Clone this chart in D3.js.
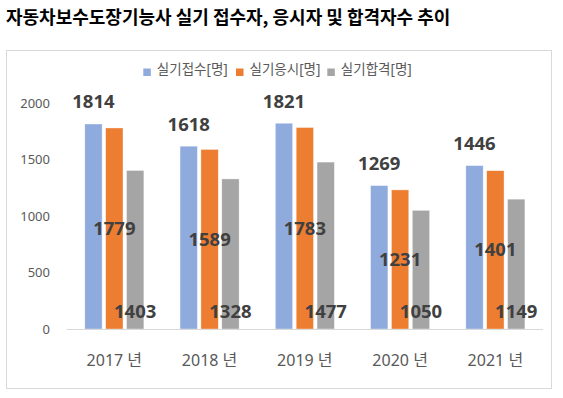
<!DOCTYPE html>
<html><head><meta charset="utf-8">
<script src="https://cdn.jsdelivr.net/npm/d3@7"></script>
<style>
html,body{margin:0;padding:0;background:#fff;}
svg{display:block;}
text{font-family:"Noto Sans","Noto Sans CJK KR",sans-serif;}
</style></head>
<body><svg id="c" width="563" height="398"></svg>
<script>
const title = "자동차보수도장기능사 실기 접수자, 응시자 및 합격자수 추이";
const categories = ["2017 년","2018 년","2019 년","2020 년","2021 년"];
const seriesNames = ["실기접수[명]","실기응시[명]","실기합격[명]"];
const applied = [1814,1618,1821,1269,1446];
const tested = [1779,1589,1783,1231,1401];
const passed = [1403,1328,1477,1050,1149];
const colors = ["#8FAADC","#ED7D31","#A5A5A5"];
const yTicks = [0,500,1000,1500,2000];

const series = [applied, tested, passed];
const svg = d3.select("#c");

svg.append("text").attr("x",6).attr("y",18).attr("dy","0.35em")
  .attr("font-size","18px").attr("font-weight","bold").attr("fill","#000")
  .style("font-family",'"Noto Sans CJK KR",sans-serif').text(title);

svg.append("rect").attr("x",6.5).attr("y",50.5).attr("width",545).attr("height",338)
  .attr("fill","#fff").attr("stroke","#d9d9d9").attr("stroke-width",1);

const x0 = d3.scaleBand().domain(categories).range([66.7,543]).paddingInner(0.38).paddingOuter(0.19);
const x1 = d3.scaleBand().domain(d3.range(3)).range([0,x0.bandwidth()]).paddingInner(0.17);
const y = d3.scaleLinear().domain([0,2000]).range([329,103]);

// y tick labels
const yAxis = d3.axisLeft(y).tickValues(yTicks).tickSize(0).tickPadding(0).tickFormat(d3.format("d"));
const ga = svg.append("g").attr("transform","translate(50,0)").call(yAxis);
ga.select(".domain").remove();
ga.selectAll("text").attr("font-size","13px").attr("fill","#595959").style("font-family",'"Noto Sans",sans-serif');

// bars
categories.forEach((c,i)=>{
  series.forEach((s,j)=>{
    svg.append("rect").attr("x",x0(c)+x1(j)).attr("y",y(s[i]))
      .attr("width",x1.bandwidth()).attr("height",y(0)-y(s[i]))
      .attr("fill",colors[j]).attr("stroke","#fff").attr("stroke-width",0.6).attr("stroke-opacity",0.6);
  });
});

// axis line
svg.append("line").attr("x1",66.7).attr("x2",543).attr("y1",329.5).attr("y2",329.5)
  .attr("stroke","#d9d9d9").attr("stroke-width",1);

// category labels
const xAxis = d3.axisBottom(x0).tickSize(0).tickPadding(0);
const gx = svg.append("g").attr("transform","translate(0,360)").call(xAxis);
gx.select(".domain").remove();
gx.selectAll("text").attr("font-size","16px").attr("fill","#595959").attr("dy","0.35em");

// data labels
const lbl = (xv,yv,t)=>svg.append("text").attr("x",xv).attr("y",yv).attr("dy","0.35em")
  .attr("text-anchor","middle").attr("font-size","18.5px").attr("font-weight","bold")
  .attr("fill","#404040").text(t);
categories.forEach((c,i)=>{
  const cx = j=>x0(c)+x1(j)+x1.bandwidth()/2;
  lbl(cx(0), y(applied[i])-22, applied[i]);
  lbl(cx(1), (y(tested[i])+y(0))/2, tested[i]);
  lbl(cx(2), y(0)-17, passed[i]);
});

// legend
const legX = [143.3,236,327.3];
seriesNames.forEach((n,j)=>{
  svg.append("rect").attr("x",legX[j]).attr("y",68.5).attr("width",7.5).attr("height",7.5).attr("fill",colors[j]);
  svg.append("text").attr("x",legX[j]+13.5).attr("y",69).attr("dy","0.35em")
    .attr("font-size","13.5px").attr("fill","#595959").text(n);
});
</script></body></html>
